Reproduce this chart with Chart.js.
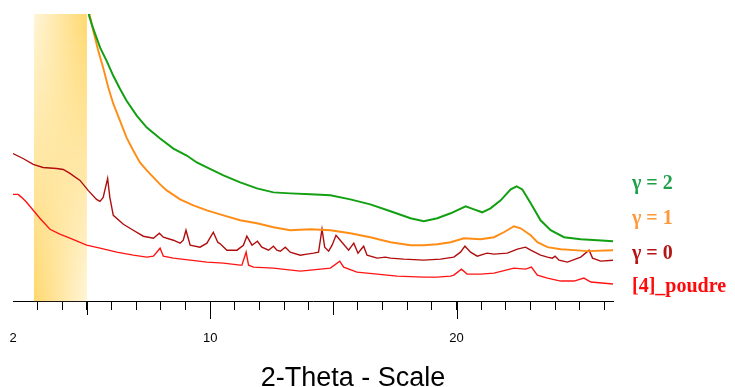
<!DOCTYPE html>
<html>
<head>
<meta charset="utf-8">
<script src="https://cdn.jsdelivr.net/npm/chart.js@4"></script>
<style>
  html, body { margin: 0; padding: 0; background: #fff; }
  #wrap { position: relative; width: 735px; height: 387px; }
</style>
</head>
<body>
<div id="wrap"><canvas id="xrd"></canvas></div>
<script>
// values: 2-theta (deg) and intensity (arbitrary, offset per pattern)
const gamma2X = [5.04,5.09,5.26,5.54,5.80,6.07,6.34,6.61,7.02,7.43,7.97,8.51,9.05,9.46,9.87,10.54,11.22,11.90,12.57,13.25,14.07,14.88,15.69,16.50,17.32,18.13,18.67,19.22,19.76,20.37,20.71,21.04,21.38,21.79,22.20,22.44,22.67,23.01,23.41,23.82,24.36,25.04,25.72,26.39];
const gamma2Y = [300,285,272,253,240,225,212,200,185,173,162,152,145,138,133,125,118,112,108,107,106,105,101,96,89,82,79,82,87,94,91,88,92,100,111,114,111,97,80,70,63,61,60,59];

const gamma1X = [5.04,5.12,5.26,5.46,5.66,5.87,6.07,6.34,6.61,6.88,7.15,7.43,7.70,7.97,8.24,8.78,9.32,9.87,10.54,11.22,11.90,12.57,13.25,14.07,14.88,15.69,16.50,17.32,18.13,18.67,19.22,19.76,20.30,20.98,21.52,21.92,22.33,22.60,23.01,23.28,23.69,24.23,24.77,25.31,26.39];
const gamma1Y = [300,285,270,250,233,213,197,180,163,150,138,130,123,116,110,101,95,90,85,80,77,73,70,71,70,67,63,58,55,55,56,58,62,61,63,68,74,72,65,58,53,51,50,49,50];

const gamma0X = [2.00,2.41,2.82,3.22,3.77,4.04,4.31,4.72,5.05,5.39,5.53,5.66,5.84,5.93,6.07,6.48,6.88,7.29,7.70,7.94,8.10,8.51,8.78,8.91,9.02,9.19,9.59,9.87,10.13,10.31,10.43,10.68,11.09,11.35,11.49,11.70,11.92,12.10,12.37,12.57,12.71,12.85,13.05,13.25,13.66,13.93,14.20,14.40,14.54,14.65,14.81,14.95,15.11,15.28,15.62,15.83,16.00,16.23,16.37,16.78,17.11,17.32,17.86,18.67,19.35,19.89,20.16,20.34,20.57,20.84,21.11,21.24,21.52,22.06,22.47,22.80,23.01,23.41,23.69,23.89,24.00,24.16,24.50,25.04,25.38,25.52,25.85,26.39];
const gamma0Y = [147,142,136,133,132,131,127,120,110,101,99,103,122,103,85,76,70,64,62,67,63,60,57,60,70,55,53,57,68,58,56,50,50,55,64,55,59,53,50,54,50,49,53,48,45,46,47,48,71,53,49,55,65,60,50,57,47,54,45,42,43,42,41,40,41,43,48,54,48,44,46,47,46,47,51,53,50,45,43,42,44,40,38,43,50,42,39,40];

const poudreX = [2.00,2.21,2.35,2.55,2.82,3.09,3.50,3.90,4.31,4.99,5.53,6.21,6.88,7.43,7.70,7.97,8.10,8.51,9.19,9.87,10.54,11.22,11.29,11.46,11.56,11.76,12.57,13.66,14.07,14.88,15.26,15.42,15.96,16.78,17.59,18.67,19.22,19.76,19.89,20.20,20.43,20.98,21.52,22.33,22.80,23.04,23.28,23.69,24.23,24.77,25.17,25.45,26.39];
const poudreY = [106,106,103,98,90,82,71,66,62,55,52,48,45,43,44,52,44,42,40,38,37,35,35,48,35,33,32,29,30,32,39,33,28,26,24,23,23,24,25,31,26,26,27,32,31,33,25,22,19,19,22,18,16];

const seriesNames = ['γ = 2', 'γ = 1', 'γ = 0', '[4]_poudre'];
const seriesX = [gamma2X, gamma1X, gamma0X, poudreX];
const seriesY = [gamma2Y, gamma1Y, gamma0Y, poudreY];

const labeledTicks = [2, 10, 20];
const midTicks = [5, 15];
const longTicks = [10, 20];
const bandRange = [2.85, 5.0];

const lineColors = ['#12a012', '#ff8c14', '#b00d0d', '#ff1414'];
const lineWidths = [2, 1.9, 1.4, 1.4];
const textColors = ['#1ea04a', '#ff9a3c', '#b41414', '#ff0a0a'];
const labelOffsets = [170, 205, 240, 273];

const light = [255, 245, 216];
const dark = [255, 216, 110];
function mix(a, b, f) {
  return 'rgb(' + a.map((v, k) => Math.round(v + (b[k] - v) * f)).join(',') + ')';
}

const decor = {
  id: 'decor',
  beforeDatasetsDraw(chart) {
    const ctx = chart.ctx, area = chart.chartArea, x = chart.scales.x;
    const x0 = x.getPixelForValue(bandRange[0]);
    const x1 = x.getPixelForValue(bandRange[1]);
    const n = 80;
    const h = area.bottom - 0.5 - area.top;
    ctx.save();
    for (let i = 0; i < n; i++) {
      const f = (i + 0.5) / n;
      const g = ctx.createLinearGradient(x0, 0, x1, 0);
      g.addColorStop(0, mix(light, dark, f));
      g.addColorStop(1, mix(dark, light, f));
      ctx.fillStyle = g;
      ctx.fillRect(x0, area.top + h * i / n, x1 - x0, h / n + 0.6);
    }
    ctx.restore();
  },
  afterDraw(chart) {
    const ctx = chart.ctx, area = chart.chartArea, x = chart.scales.x;
    ctx.save();
    ctx.strokeStyle = '#000';
    ctx.lineWidth = 1;
    function tick(v, len) {
      const px = Math.round(x.getPixelForValue(v)) + 0.5;
      ctx.beginPath();
      ctx.moveTo(px, area.bottom);
      ctx.lineTo(px, area.bottom + len);
      ctx.stroke();
    }
    midTicks.forEach(v => tick(v, 14));
    longTicks.forEach(v => tick(v, 18));

    ctx.font = 'bold 20px "Times New Roman", "Liberation Serif", serif';
    ctx.textAlign = 'left';
    ctx.textBaseline = 'middle';
    seriesNames.forEach((name, i) => {
      ctx.fillStyle = textColors[i];
      ctx.fillText(name, area.right + 19, area.top + labelOffsets[i]);
    });

    ctx.font = '27px Arial, "Liberation Sans", sans-serif';
    ctx.fillStyle = '#000';
    ctx.textAlign = 'center';
    ctx.textBaseline = 'alphabetic';
    ctx.fillText('2-Theta - Scale', 353, 386);
    ctx.restore();
  }
};

new Chart(document.getElementById('xrd'), {
  type: 'line',
  data: {
    datasets: seriesNames.map((name, i) => ({
      label: name,
      data: seriesX[i].map((v, j) => ({ x: v, y: seriesY[i][j] })),
      borderColor: lineColors[i],
      borderWidth: lineWidths[i],
      pointRadius: 0,
      tension: 0,
      fill: false
    }))
  },
  options: {
    responsive: true,
    maintainAspectRatio: false,
    animation: false,
    layout: { padding: { left: 13, right: 122, top: 14, bottom: 0 } },
    plugins: { legend: { display: false }, tooltip: { enabled: false } },
    scales: {
      x: {
        type: 'linear',
        min: 2,
        max: 26.35,
        afterFit(scale) {
          scale.height = 86;
          scale.paddingLeft = 0;
          scale.paddingRight = 0;
        },
        border: { display: true, color: '#000', width: 1 },
        grid: {
          drawOnChartArea: false,
          drawTicks: true,
          tickLength: 9,
          tickWidth: 1,
          tickColor: c => (c.tick && Math.abs(c.tick.value - 2) < 0.01) ? 'rgba(0,0,0,0)' : '#000'
        },
        ticks: {
          stepSize: 1,
          autoSkip: false,
          maxRotation: 0,
          includeBounds: false,
          padding: 21,
          color: '#000',
          font: { family: 'Arial, "Liberation Sans", sans-serif', size: 13 },
          callback: v => labeledTicks.some(t => Math.abs(t - v) < 0.01) ? String(Math.round(v)) : ''
        }
      },
      y: { display: false, min: -1, max: 287 }
    }
  },
  plugins: [decor]
});
</script>
</body>
</html>
